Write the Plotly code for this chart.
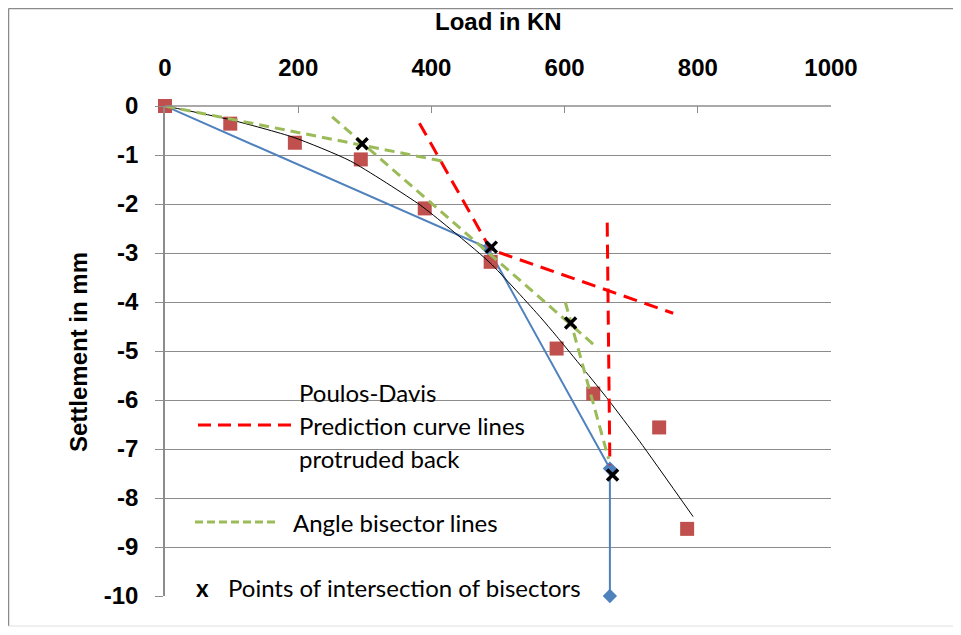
import plotly.graph_objects as go

# ---- data ----
meas_load = [0, 98, 195, 294, 390, 489, 588, 643, 742, 784]
meas_settle = [0, -0.36, -0.75, -1.09, -2.09, -3.18, -4.95, -5.87, -6.56, -8.63]

trend_load = [0, 98, 193, 278, 383, 423, 488, 563, 588, 663, 713, 793]
trend_settle = [0, -0.28, -0.64, -1.12, -2.02, -2.45, -3.2, -4.3, -4.7, -5.95, -6.85, -8.38]

blue_load = [0, 485, 668, 668]
blue_settle = [0, -2.9, -7.4, -10]

red_a_load = [382, 489, 763]
red_a_settle = [-0.35, -2.93, -4.23]
red_b_load = [664, 668]
red_b_settle = [-2.38, -7.33]

g1_load = [0, 418]
g1_settle = [0, -1.13]
g2_load = [251, 648]
g2_settle = [-0.22, -4.92]
g3_load = [601, 666]
g3_settle = [-4.0, -7.2]

x_load = [296, 490, 609, 672]
x_settle = [-0.77, -2.88, -4.43, -7.53]

x_ticks = [0, 200, 400, 600, 800, 1000]
y_ticks = [0, -1, -2, -3, -4, -5, -6, -7, -8, -9, -10]

RED_SQ = "#C0504D"
BLUE = "#4F81BD"
GREEN = "#9BBB59"
RED = "#FF0000"
GRID = "#8C8C8C"

fig = go.Figure()
fig.add_trace(go.Scatter(x=blue_load, y=blue_settle, mode="lines+markers", cliponaxis=False,
                         line=dict(color=BLUE, width=2),
                         marker=dict(symbol="diamond", size=11, color=BLUE)))
fig.add_trace(go.Scatter(x=meas_load, y=meas_settle, mode="markers", cliponaxis=False,
                         marker=dict(symbol="square", size=14, color=RED_SQ)))
fig.add_trace(go.Scatter(x=trend_load, y=trend_settle, mode="lines", cliponaxis=False,
                         line=dict(color="black", width=1, shape="spline", smoothing=0.6)))
for xs, ys in [(red_a_load, red_a_settle), (red_b_load, red_b_settle)]:
    fig.add_trace(go.Scatter(x=xs, y=ys, mode="lines", cliponaxis=False,
                             line=dict(color=RED, width=3, dash="14px,8px")))
for xs, ys in [(g1_load, g1_settle), (g2_load, g2_settle), (g3_load, g3_settle)]:
    fig.add_trace(go.Scatter(x=xs, y=ys, mode="lines", cliponaxis=False,
                             line=dict(color=GREEN, width=3, dash="10px,6px")))
fig.add_trace(go.Scatter(x=x_load, y=x_settle, mode="markers", cliponaxis=False,
                         marker=dict(symbol="x-thin", size=11,
                                     line=dict(color="black", width=3.5))))

# page is rendered with an 8px body margin -> shift figure coordinates
OFF = 8
W, H = 961 - 2 * OFF, 635 - 2 * OFF
PL, PR, PT, PB = 165, 831, 106, 596        # plot area in page pixels
L, T = PL - OFF, PT - OFF
R = W - L - (PR - PL)
B = H - T - (PB - PT)
pw, ph = PR - PL, PB - PT

def px(xp):  # page pixel -> paper x
    return (xp - PL) / pw

def py(yp):  # page pixel -> paper y
    return (PB - yp) / ph

tick_font = dict(family="Liberation Sans, Arial, sans-serif", size=24, color="black", weight="bold")
leg_font = dict(family="Lato, sans-serif", size=24, color="black")

BORDER = dict(color="#8A8A8A", width=1.5)
bx0, by0, by1 = px(OFF + 0.5), py(OFF + 0.5), py(OFF + H - 1)

fig.update_layout(
    width=W, height=H, margin=dict(l=L, r=R, t=T, b=B, autoexpand=False),
    paper_bgcolor="white", plot_bgcolor="white", showlegend=False,
    xaxis=dict(side="top", range=[0, 1000], tickvals=x_ticks,
               ticktext=[str(v) for v in x_ticks], showgrid=False, zeroline=False,
               showline=False, ticks="inside", ticklen=7, tickcolor=GRID, tickwidth=1,
               tickfont=tick_font, ticklabelstandoff=24),
    yaxis=dict(range=[-10, 0], tickvals=y_ticks, ticktext=[str(v) for v in y_ticks],
               showgrid=True, gridcolor=GRID, gridwidth=1, zeroline=False,
               showline=True, linecolor=GRID, linewidth=1.5,
               ticks="outside", ticklen=8, tickcolor=GRID,
               tickfont=tick_font, ticklabelstandoff=12),
    annotations=[
        dict(text="Load in KN", xref="paper", yref="paper", x=0.5, y=py(22),
             showarrow=False, font=tick_font, yanchor="middle"),
        dict(text="Settlement in mm", xref="paper", yref="paper", x=px(78), y=py(352),
             showarrow=False, font=tick_font, textangle=-90, xanchor="center", yanchor="middle"),
        dict(text="Poulos-Davis", xref="paper", yref="paper", x=px(297), y=py(393),
             xanchor="left", yanchor="middle", showarrow=False, font=leg_font),
        dict(text="Prediction curve lines", xref="paper", yref="paper", x=px(297), y=py(425),
             xanchor="left", yanchor="middle", showarrow=False, font=leg_font),
        dict(text="protruded back", xref="paper", yref="paper", x=px(297), y=py(458),
             xanchor="left", yanchor="middle", showarrow=False, font=leg_font),
        dict(text="Angle bisector lines", xref="paper", yref="paper", x=px(291), y=py(522),
             xanchor="left", yanchor="middle", showarrow=False, font=leg_font),
        dict(text="x", xref="paper", yref="paper", x=px(202), y=py(587),
             xanchor="center", yanchor="middle", showarrow=False,
             font=dict(family="Lato, sans-serif", size=24, color="black", weight="bold")),
        dict(text="Points of intersection of bisectors", xref="paper", yref="paper",
             x=px(226), y=py(587), xanchor="left", yanchor="middle", showarrow=False,
             font=leg_font),
    ],
    shapes=[
        # zero line / top axis
        dict(type="line", xref="paper", yref="paper", x0=0, x1=1, y0=1, y1=1,
             line=dict(color=GRID, width=1.5)),
        # legend samples
        dict(type="line", xref="paper", yref="paper", x0=px(198), x1=px(293),
             y0=py(425), y1=py(425), line=dict(color=RED, width=3, dash="13px,7px")),
        dict(type="line", xref="paper", yref="paper", x0=px(195), x1=px(278),
             y0=py(522), y1=py(522), line=dict(color=GREEN, width=3, dash="8px,4px")),
        # outer chart border (top, left, bottom only; right edge is off-image)
        dict(type="line", xref="paper", yref="paper", x0=bx0, x1=px(990), y0=by0, y1=by0,
             line=BORDER, layer="below"),
        dict(type="line", xref="paper", yref="paper", x0=bx0, x1=bx0, y0=by0, y1=by1,
             line=BORDER, layer="below"),
        dict(type="line", xref="paper", yref="paper", x0=bx0, x1=px(990), y0=by1, y1=by1,
             line=dict(color="#E0E0E0", width=1), layer="below"),
    ],
)

fig.write_html("out.html")
